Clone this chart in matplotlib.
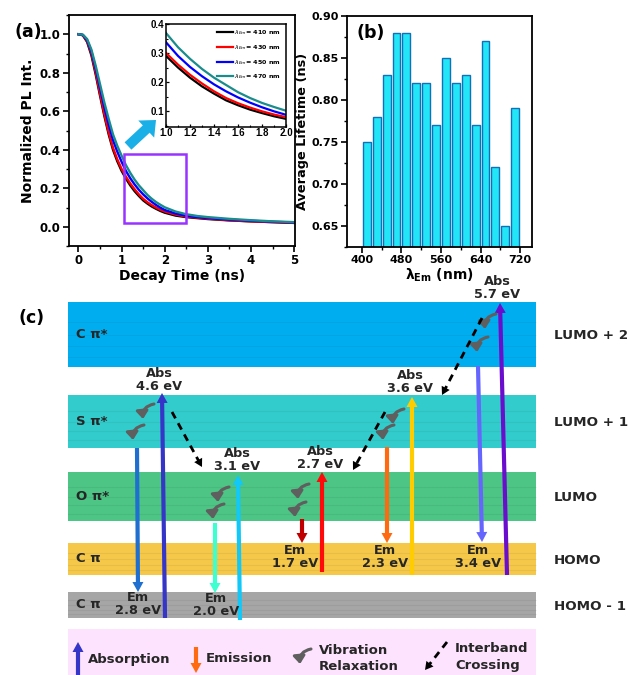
import matplotlib
matplotlib.use('Agg')
import matplotlib.pyplot as plt
from matplotlib.patches import Rectangle, FancyArrowPatch, Polygon
from matplotlib.ticker import MultipleLocator, FormatStrFormatter
import numpy as np

# ---------------- data: panel (a) ----------------
decay_time = [0, 0.1, 0.2, 0.3, 0.4, 0.5, 0.6, 0.7, 0.8, 0.9, 1.0, 1.1, 1.2, 1.3, 1.4,
              1.5, 1.6, 1.7, 1.8, 1.9, 2.0, 2.25, 2.5, 2.75, 3.0, 3.5, 4.0, 4.5, 5.0]
pl_410 = [1.0, 0.995, 0.96, 0.89, 0.79, 0.68, 0.575, 0.48, 0.40, 0.34, 0.29, 0.25, 0.215, 0.185,
          0.16, 0.137, 0.12, 0.105, 0.093, 0.082, 0.073, 0.058, 0.05, 0.045, 0.04, 0.033, 0.028, 0.024, 0.02]
pl_430 = [1.0, 0.995, 0.965, 0.90, 0.80, 0.69, 0.585, 0.49, 0.41, 0.35, 0.30, 0.26, 0.225, 0.195,
          0.168, 0.145, 0.127, 0.112, 0.099, 0.088, 0.079, 0.063, 0.053, 0.047, 0.042, 0.034, 0.028, 0.024, 0.02]
pl_450 = [1.0, 0.997, 0.97, 0.91, 0.82, 0.72, 0.62, 0.53, 0.45, 0.39, 0.337, 0.29, 0.252, 0.22,
          0.192, 0.168, 0.147, 0.129, 0.113, 0.099, 0.087, 0.069, 0.057, 0.05, 0.045, 0.037, 0.031, 0.026, 0.022]
pl_470 = [1.0, 0.998, 0.975, 0.92, 0.835, 0.74, 0.645, 0.56, 0.48, 0.42, 0.369, 0.32, 0.28, 0.245,
          0.215, 0.19, 0.165, 0.145, 0.128, 0.114, 0.101, 0.079, 0.065, 0.056, 0.05, 0.041, 0.034, 0.028, 0.024]
series_wl = ['410', '430', '450', '470']
series_colors = ['#000000', '#FF0000', '#0000FF', '#1A8C8C']

# ---------------- data: panel (b) ----------------
em_wavelength = [410, 430, 450, 470, 490, 510, 530, 550, 570, 590, 610, 630, 650, 670, 690, 710]
avg_lifetime = [0.75, 0.78, 0.83, 0.88, 0.88, 0.82, 0.82, 0.77, 0.85, 0.82, 0.83, 0.77, 0.87, 0.72, 0.65, 0.79]

# ---------------- data: panel (c) ----------------
band_names = ['C π*', 'S π*', 'O π*', 'C π', 'C π']
band_levels = ['LUMO + 2', 'LUMO + 1', 'LUMO', 'HOMO', 'HOMO - 1']
abs_energy = [4.6, 3.1, 2.7, 3.6, 5.7]
em_energy = [2.8, 2.0, 1.7, 2.3, 3.4]

# ---------------- figure ----------------
W, H = 630, 675
fig = plt.figure(figsize=(6.3, 6.75), dpi=100)
BOLD = dict(fontweight='bold')


def style_axis(ax, labelsize):
    for s in ax.spines.values():
        s.set_linewidth(1.3)
    ax.tick_params(which='major', direction='out', length=4, width=1.2, labelsize=labelsize, pad=2)
    ax.tick_params(which='minor', direction='out', length=2.5, width=1.0)
    for t in ax.get_xticklabels() + ax.get_yticklabels():
        t.set_fontweight('bold')


# panel (a)
ax_a = fig.add_axes([69 / W, 1 - 246 / H, 226 / W, 231 / H])
curves = [pl_410, pl_430, pl_450, pl_470]
for yv, c in zip(curves, series_colors):
    ax_a.plot(decay_time, yv, color=c, lw=1.7)
ax_a.set_xlim(-0.22, 5.02)
ax_a.set_ylim(-0.1, 1.1)
ax_a.xaxis.set_major_locator(MultipleLocator(1))
ax_a.xaxis.set_minor_locator(MultipleLocator(0.5))
ax_a.yaxis.set_major_locator(MultipleLocator(0.2))
ax_a.yaxis.set_minor_locator(MultipleLocator(0.1))
ax_a.yaxis.set_major_formatter(FormatStrFormatter('%.1f'))
style_axis(ax_a, 8.5)
ax_a.set_xlabel('Decay Time (ns)', fontsize=10, labelpad=1, **BOLD)
ax_a.set_ylabel('Normalized PL Int.', fontsize=10, labelpad=3, **BOLD)
ax_a.add_patch(Rectangle((1.05, 0.02), 1.45, 0.36, fill=False, ec='#9933FF', lw=1.8, zorder=5))

# inset
ax_in = fig.add_axes([166 / W, 1 - 127 / H, 120 / W, 103 / H])
for yv, c, wl in zip(curves, series_colors, series_wl):
    ax_in.plot(decay_time, yv, color=c, lw=1.6, label=r'$\lambda_{Em}$= ' + wl + ' nm')
ax_in.set_xlim(1.0, 2.0)
ax_in.set_ylim(0.045, 0.4)
ax_in.xaxis.set_major_locator(MultipleLocator(0.2))
ax_in.xaxis.set_minor_locator(MultipleLocator(0.1))
ax_in.yaxis.set_major_locator(MultipleLocator(0.1))
ax_in.yaxis.set_minor_locator(MultipleLocator(0.05))
ax_in.xaxis.set_major_formatter(FormatStrFormatter('%.1f'))
ax_in.yaxis.set_major_formatter(FormatStrFormatter('%.1f'))
for s in ax_in.spines.values():
    s.set_linewidth(1.1)
ax_in.tick_params(which='major', direction='in', length=2.5, width=0.9, labelsize=7, pad=1)
ax_in.tick_params(which='minor', direction='in', length=1.5, width=0.8)
for t in ax_in.get_xticklabels() + ax_in.get_yticklabels():
    t.set_fontweight('bold')
    t.set_fontfamily('Liberation Sans')
leg = ax_in.legend(loc='upper right', fontsize=4.6, frameon=False, handlelength=2.6,
                   handletextpad=0.2, labelspacing=0.9, borderaxespad=0.3)
for t in leg.get_texts():
    t.set_fontweight('bold')

# panel (b)
ax_b = fig.add_axes([347 / W, 1 - 247 / H, 185 / W, 231 / H])
ax_b.bar(em_wavelength, avg_lifetime, width=16, color='#22E5F8', edgecolor='#1070B8', lw=1.0)
ax_b.set_xlim(370, 744)
ax_b.set_ylim(0.625, 0.90)
ax_b.xaxis.set_major_locator(MultipleLocator(80))
ax_b.xaxis.set_minor_locator(MultipleLocator(40))
ax_b.yaxis.set_major_locator(MultipleLocator(0.05))
ax_b.yaxis.set_minor_locator(MultipleLocator(0.025))
ax_b.yaxis.set_major_formatter(FormatStrFormatter('%.2f'))
style_axis(ax_b, 8)
ax_b.set_xlabel(r'$\mathbf{\lambda_{Em}}$ (nm)', fontsize=10, labelpad=1, **BOLD)
ax_b.set_ylabel('Average Lifetime (ns)', fontsize=9.3, labelpad=2, **BOLD)

# overlay (pixel coordinates) for panel labels and panel (c)
ax = fig.add_axes([0, 0, 1, 1])
ax.set_xlim(0, W)
ax.set_ylim(H, 0)
ax.axis('off')
ax.patch.set_visible(False)

ax.text(28, 32, '(a)', fontsize=12.5, ha='center', va='center', **BOLD)
ax.text(371, 33, '(b)', fontsize=12.5, ha='center', va='center', **BOLD)
ax.text(32, 318, '(c)', fontsize=12.5, ha='center', va='center', **BOLD)

# cyan block arrow in (a)
ax.add_patch(FancyArrowPatch((128, 146), (156, 120),
                             arrowstyle='simple,head_length=0.8,head_width=1.4,tail_width=0.6',
                             mutation_scale=12, color='#1AAFE6', lw=0, shrinkA=0, shrinkB=0))

# bands
band_top = [302, 395, 472, 543, 592]
band_bot = [367, 448, 521, 575, 618]
band_colors = ['#00AEEF', '#33CCCC', '#4CC585', '#F5C84A', '#A6A6A6']
x_left, x_right = 68, 536
TXT = '#262626'
for name, lev, t, b, c in zip(band_names, band_levels, band_top, band_bot, band_colors):
    ax.add_patch(Rectangle((x_left, t), x_right - x_left, b - t, color=c, lw=0, zorder=1))
    for f in [0.3, 0.5, 0.68, 0.85]:
        yy = t + f * (b - t)
        ax.plot([x_left, x_right], [yy, yy], color='k', alpha=0.05, lw=0.8, zorder=1.5)
    ax.text(76, (t + b) / 2, name, fontsize=9.5, ha='left', va='center', color=TXT, zorder=3, **BOLD)
    ax.text(554, (t + b) / 2 + 1, lev, fontsize=9.7, ha='left', va='center', color=TXT, **BOLD)


def arrow(x0, y0, x1, y1, color, lw=3.0, hl=10, hw=5.5, dashed=False, z=4):
    L = np.hypot(x1 - x0, y1 - y0)
    ux, uy = (x1 - x0) / L, (y1 - y0) / L
    bx, by = x1 - ux * hl, y1 - uy * hl
    ls = (0, (2.6, 2.0)) if dashed else '-'
    ax.plot([x0, bx + ux * 1], [y0, by + uy * 1], color=color, lw=lw, ls=ls,
            solid_capstyle='butt', zorder=z)
    px, py = -uy, ux
    ax.add_patch(Polygon([(x1, y1), (bx + px * hw, by + py * hw), (bx - px * hw, by - py * hw)],
                         closed=True, color=color, lw=0, zorder=z))


def curly(x, y, s=1.0):
    ax.add_patch(FancyArrowPatch((x + 6 * s, y - 8 * s), (x - 5 * s, y + 7 * s),
                                 connectionstyle='arc3,rad=0.45',
                                 arrowstyle='-|>,head_length=0.45,head_width=0.35',
                                 mutation_scale=10, color='#5F5F5F', lw=2.2,
                                 shrinkA=0, shrinkB=0, zorder=4))


# absorption transitions (tail bottom -> tip top)
abs_geom = [(165, 618, 162, 393), (240, 620, 238, 475), (322, 572, 322, 472),
            (412, 575, 412, 397), (507, 575, 500, 303)]
abs_colors = ['#3535C8', '#12C8F8', '#FF0A0A', '#FFCC00', '#6A0DCC']
abs_lbl = [(159, 380), (237, 460), (320, 458), (410, 382), (497, 288)]
for e, (x0, y0, x1, y1), c, (lx, ly) in zip(abs_energy, abs_geom, abs_colors, abs_lbl):
    arrow(x0, y0, x1, y1, c)
    ax.text(lx, ly, 'Abs\n%.1f eV' % e, fontsize=9.3, ha='center', va='center',
            linespacing=1.0, color=TXT, zorder=6, **BOLD)

# emission transitions (tail top -> tip bottom)
em_geom = [(137, 448, 138, 592), (215, 523, 215, 593), (302, 519, 302, 543),
           (387, 447, 387, 543), (478, 366, 482, 542)]
em_colors = ['#1F6FD0', '#3DFFD0', '#C00000', '#FF6A10', '#6666FF']
em_lbl = [(138, 604), (216, 605), (295, 557), (385, 557), (478, 557)]
for e, (x0, y0, x1, y1), c, (lx, ly) in zip(em_energy, em_geom, em_colors, em_lbl):
    arrow(x0, y0, x1, y1, c)
    ax.text(lx, ly, 'Em\n%.1f eV' % e, fontsize=9.3, ha='center', va='center',
            linespacing=1.0, color=TXT, zorder=6, **BOLD)

# vibration relaxation hooks
for (x, y) in [(148, 412), (138, 433), (223, 495), (218, 512), (303, 492), (300, 510),
               (398, 417), (388, 433), (490, 322), (482, 345)]:
    curly(x, y)

# interband crossings
arrow(172, 412, 202, 467, 'k', lw=2.0, hl=8, hw=4.5, dashed=True)
arrow(385, 412, 353, 470, 'k', lw=2.0, hl=8, hw=4.5, dashed=True)
arrow(482, 318, 442, 395, 'k', lw=2.0, hl=8, hw=4.5, dashed=True)

# legend box
ax.add_patch(Rectangle((x_left, 629), x_right - x_left, 50, color='#FDE3FD', lw=0, zorder=1))
arrow(78, 676, 78, 642, '#3535C8')
ax.text(88, 659, 'Absorption', fontsize=9.5, ha='left', va='center', color=TXT, **BOLD)
arrow(196, 647, 196, 673, '#FF6A10')
ax.text(206, 658, 'Emission', fontsize=9.5, ha='left', va='center', color=TXT, **BOLD)
curly(305, 657)
ax.text(319, 650, 'Vibration', fontsize=9.5, ha='left', va='center', color=TXT, **BOLD)
ax.text(319, 667, 'Relaxation', fontsize=9.5, ha='left', va='center', color=TXT, **BOLD)
arrow(447, 642, 425, 670, 'k', lw=2.0, hl=8, hw=4.5, dashed=True)
ax.text(455, 648, 'Interband', fontsize=9.5, ha='left', va='center', color=TXT, **BOLD)
ax.text(455, 665, 'Crossing', fontsize=9.5, ha='left', va='center', color=TXT, **BOLD)

fig.savefig('out.png', dpi=100)
